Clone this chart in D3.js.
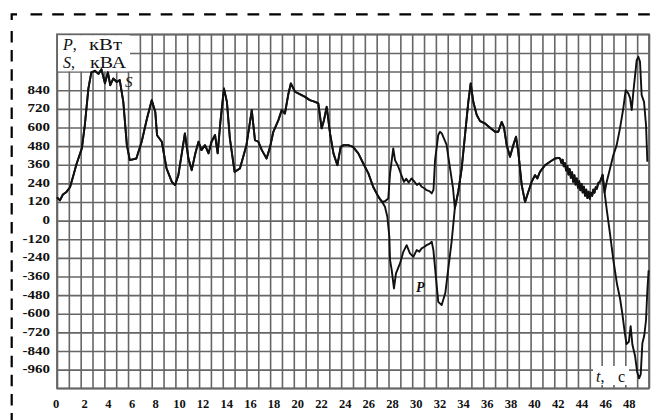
<!DOCTYPE html>
<html>
<head>
<meta charset="utf-8">
<script src="https://cdn.jsdelivr.net/npm/d3@7"></script>
<style>
  html, body { margin: 0; padding: 0; background: #fff; }
  svg { display: block; }
</style>
</head>
<body>
<svg id="chart" width="659" height="420"></svg>
<script>
// Tick labels
const timeLabels = [0, 2, 4, 6, 8, 10, 12, 14, 16, 18, 20, 22, 24, 26, 28, 30, 32, 34, 36, 38, 40, 42, 44, 46, 48];
const powerLabels = [840, 720, 600, 480, 360, 240, 120, 0, -120, -240, -360, -480, -600, -720, -840, -960];

// Grid: one line per second, one per 120 units
const gridSeconds = d3.range(0, 51, 1);
const gridPower = d3.range(-1080, 1201, 120);

// Common part of S and P (t, value) before they separate
const sharedStart = [
  [0, 150], [0.25, 130], [0.5, 168], [0.8, 185], [1.1, 215], [1.4, 295], [1.65, 365], [1.95, 432],
  [2.1, 465], [2.35, 615], [2.65, 850], [2.9, 955], [3.2, 965], [3.5, 945], [3.75, 975], [4.05, 885],
  [4.3, 955], [4.5, 872], [4.75, 915], [5.05, 893], [5.3, 905], [5.6, 765], [5.9, 486], [6.15, 390],
  [6.7, 400], [7.15, 508], [7.6, 658], [8.0, 776], [8.3, 700], [8.45, 550], [8.85, 508], [9.25, 336],
  [9.7, 250], [9.97, 229], [10.25, 293], [10.65, 486], [10.8, 562], [11.1, 400], [11.38, 325],
  [11.65, 422], [11.95, 508], [12.2, 454], [12.5, 486], [12.8, 433], [13.05, 508], [13.35, 551],
  [13.57, 433], [13.8, 636], [14.1, 851], [14.35, 765], [14.6, 530], [15.0, 314], [15.45, 336],
  [16.0, 486], [16.45, 712], [16.72, 518], [17.0, 508], [17.3, 454], [17.7, 400], [18.0, 475],
  [18.27, 572], [18.7, 647], [18.98, 712], [19.25, 690], [19.55, 819], [19.75, 884], [20.1, 830],
  [20.5, 815], [20.95, 797], [21.35, 776], [21.8, 765], [22.07, 755], [22.35, 594], [22.55, 647],
  [22.78, 733], [23.06, 562], [23.35, 433], [23.68, 357], [23.96, 475], [24.2, 486], [24.6, 486],
  [25.0, 475], [25.45, 433], [25.87, 368], [26.3, 304], [26.7, 218], [27.15, 153], [27.45, 121]
];

// Apparent power S, first separate stretch
const sFirstDip = [
  [27.7, 125], [27.98, 143], [28.13, 304], [28.4, 465], [28.55, 390], [28.83, 347], [29.1, 290],
  [29.3, 250], [29.5, 270], [29.7, 245], [29.95, 272], [30.2, 250], [30.4, 229], [30.6, 240],
  [30.8, 218], [31.0, 210], [31.22, 196], [31.45, 190], [31.65, 175], [31.8, 200], [31.93, 390],
  [32.2, 551], [32.35, 572], [32.5, 562], [32.9, 490], [33.15, 360], [33.45, 207], [33.6, 80]
];

// Active power P, first separate stretch
const pFirstDip = [
  [27.7, 89], [27.9, 25], [28.07, -104], [28.13, -254], [28.27, -319], [28.46, -437], [28.63, -340],
  [28.97, -276], [29.25, -201], [29.53, -158], [29.81, -211], [30.1, -233], [30.38, -190],
  [30.6, -200], [30.8, -179], [31.0, -170], [31.22, -158], [31.45, -150], [31.65, -136],
  [31.79, -190], [32.0, -362], [32.2, -523], [32.49, -544], [32.8, -465], [33.05, -308],
  [33.33, -136], [33.6, 79]
];

// Common part between the two stretches
const sharedMiddle = [
  [33.6, 80], [33.89, 186], [34.18, 336], [34.46, 551], [34.74, 765], [34.94, 884], [35.16, 765],
  [35.45, 680], [35.73, 641], [36.15, 626], [36.57, 598], [37.0, 572], [37.27, 572], [37.56, 636],
  [37.75, 600], [37.98, 486], [38.26, 411], [38.54, 486], [38.77, 540], [38.96, 443], [39.25, 229],
  [39.53, 121], [39.81, 186], [40.09, 250], [40.37, 293], [40.57, 272], [40.79, 314], [41.22, 357],
  [41.64, 379], [42.06, 400], [42.42, 404], [42.5, 398], [42.6, 372], [42.7, 392], [42.8, 350],
  [42.9, 370], [43.0, 322], [43.1, 352], [43.2, 296], [43.3, 332], [43.4, 275], [43.5, 312],
  [43.6, 250], [43.7, 292], [43.8, 232], [43.9, 272], [44.0, 212], [44.1, 254], [44.2, 196],
  [44.3, 236], [44.4, 180], [44.5, 218], [44.6, 160], [44.7, 200], [44.8, 145], [44.9, 186],
  [45.0, 140], [45.1, 180], [45.2, 160], [45.3, 200], [45.4, 180], [45.5, 215], [45.6, 205],
  [45.7, 240], [45.86, 250], [46.08, 295], [46.25, 180]
];

// Apparent power S, final stretch
const sFinal = [
  [46.43, 250], [46.71, 336], [46.99, 422], [47.27, 486], [47.55, 594], [47.83, 723], [48.03, 840],
  [48.25, 819], [48.4, 790], [48.54, 712], [48.68, 830], [48.96, 1034], [49.1, 1055], [49.24, 1023],
  [49.38, 808], [49.58, 765], [49.75, 615], [49.86, 379]
];

// Active power P, final stretch
const pFinal = [
  [46.45, 60], [46.7, -80], [47.0, -260], [47.3, -410], [47.55, -500], [47.75, -600], [47.95, -720],
  [48.1, -795], [48.3, -780], [48.45, -680], [48.6, -800], [48.82, -870], [49.0, -975],
  [49.16, -1016], [49.3, -990], [49.44, -790], [49.6, -740], [49.75, -640], [49.86, -450],
  [49.97, -320]
];

const seriesS = [...sharedStart, ...sFirstDip, ...sharedMiddle, ...sFinal];
const seriesP = [...sharedStart, ...pFirstDip, ...sharedMiddle, ...pFinal];

const svg = d3.select("#chart");
const box = { left: 57, right: 649, top: 34.3, bottom: 388.3 };

const x = d3.scaleLinear().domain([0, 50]).range([box.left, box.right]);
const y = d3.scaleLinear().domain([-1080, 1200]).range([box.bottom, box.top]);

const gridColor = "#666";
const serif = "'Liberation Serif', 'Times New Roman', serif";

// Dashed outer frame
const frame = svg.append("g").attr("fill", "none").attr("stroke", "#000").attr("stroke-width", 2.2);
frame.append("path").attr("d", "M11.7,20 V14.3 H17");
frame.append("line").attr("x1", 11.7).attr("x2", 11.7).attr("y1", 31).attr("y2", 420)
  .attr("stroke-dasharray", "11.5 7.6");
frame.append("line").attr("x1", 30.5).attr("x2", 659).attr("y1", 14.3).attr("y2", 14.3)
  .attr("stroke-dasharray", "11.7 10");

// Grid lines
svg.append("g")
  .attr("transform", `translate(0,${box.bottom})`)
  .call(d3.axisBottom(x).tickValues(gridSeconds).tickSize(-(box.bottom - box.top)).tickFormat(""))
  .call(g => g.select(".domain").remove())
  .call(g => g.selectAll("line").attr("stroke", gridColor).attr("stroke-width", 1.6));

svg.append("g")
  .attr("transform", `translate(${box.left},0)`)
  .call(d3.axisLeft(y).tickValues(gridPower).tickSize(-(box.right - box.left)).tickFormat(""))
  .call(g => g.select(".domain").remove())
  .call(g => g.selectAll("line").attr("stroke", gridColor).attr("stroke-width", 1.6));

svg.append("rect")
  .attr("x", box.left).attr("y", box.top)
  .attr("width", box.right - box.left).attr("height", box.bottom - box.top)
  .attr("fill", "none").attr("stroke", gridColor).attr("stroke-width", 1.8);

// Value labels on the left
const yLab = svg.append("g").attr("font-family", serif).attr("font-weight", "bold")
  .attr("font-size", 12.5).attr("fill", "#111");
yLab.selectAll("g").data(powerLabels).join("g")
  .attr("transform", d => `translate(50,${y(d) + 3.5})`)
  .append("text").attr("text-anchor", "end").attr("transform", "scale(1.2,1)")
  .text(d => d);

// Time labels along the bottom
svg.append("g").attr("font-family", serif).attr("font-weight", "bold")
  .attr("font-size", 12.5).attr("fill", "#111")
  .selectAll("text").data(timeLabels).join("text")
  .attr("x", d => x(d) + (d === 0 ? -1 : 4)).attr("y", 408)
  .attr("text-anchor", "middle").text(d => d);

// Axis titles on white patches
svg.append("rect").attr("x", box.left + 1).attr("y", box.top + 1).attr("width", 72).attr("height", 36)
  .attr("fill", "#fff");
svg.append("rect").attr("x", 593).attr("y", 366).attr("width", 36).attr("height", 19).attr("fill", "#fff");

const titles = svg.append("g").attr("font-family", serif).attr("font-size", 16).attr("fill", "#111");
const t1 = titles.append("text").attr("x", 63).attr("y", 49.5);
t1.append("tspan").attr("font-style", "italic").text("P");
t1.append("tspan").text(",");
titles.append("text").attr("x", 89).attr("y", 49.5).attr("textLength", 33)
  .attr("lengthAdjust", "spacingAndGlyphs").text("кВт");
const t2 = titles.append("text").attr("x", 63).attr("y", 68);
t2.append("tspan").attr("font-style", "italic").text("S");
t2.append("tspan").text(",");
titles.append("text").attr("x", 90).attr("y", 68).attr("textLength", 36)
  .attr("lengthAdjust", "spacingAndGlyphs").text("кВА");

const t3 = titles.append("text").attr("x", 596).attr("y", 382);
t3.append("tspan").attr("font-style", "italic").text("t");
t3.append("tspan").text(",");
titles.append("text").attr("x", 618).attr("y", 382).text("с");

// Curves
const line = d3.line().x(d => x(d[0])).y(d => y(d[1]));
svg.append("path").datum(seriesP).attr("d", line)
  .attr("fill", "none").attr("stroke", "#111").attr("stroke-width", 1.9).attr("stroke-linejoin", "round");
svg.append("path").datum(seriesS).attr("d", line)
  .attr("fill", "none").attr("stroke", "#111").attr("stroke-width", 1.9).attr("stroke-linejoin", "round");

// Curve names
svg.append("text").attr("x", 125).attr("y", 87).attr("font-family", serif)
  .attr("font-style", "italic").attr("font-size", 15).attr("fill", "#111").text("S");
svg.append("text").attr("x", 416).attr("y", 292).attr("font-family", serif)
  .attr("font-style", "italic").attr("font-weight", "bold").attr("font-size", 14).attr("fill", "#111").text("P");
</script>
</body>
</html>
